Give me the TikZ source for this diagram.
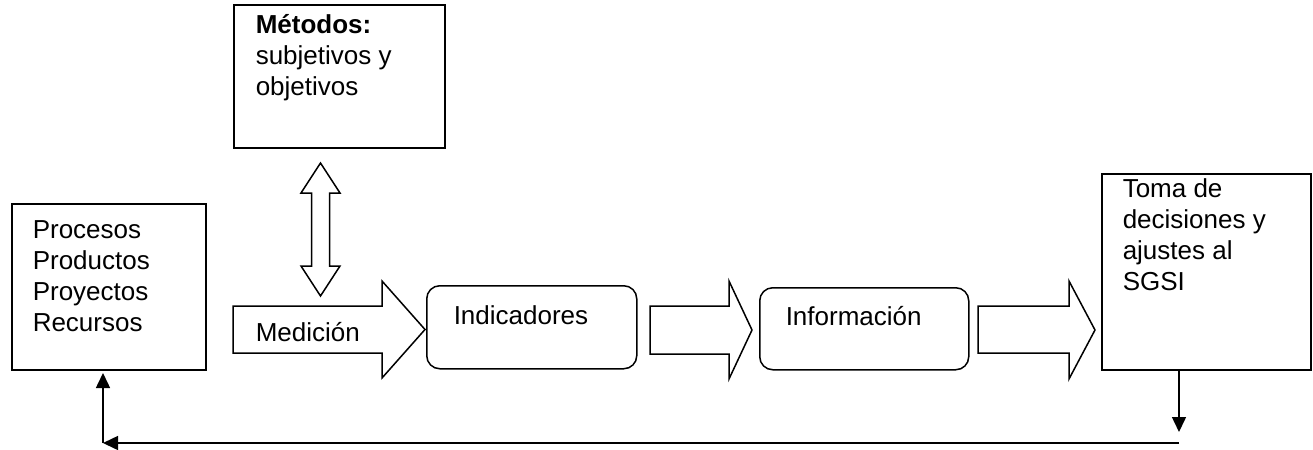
\documentclass[tikz,border=0pt]{standalone}
\usepackage{fontspec}
\setmainfont{Liberation Sans}
\usetikzlibrary{arrows.meta,positioning,calc}

\begin{document}
\begin{tikzpicture}[x=0.5pt,y=-0.5pt,>={Triangle[length=7.5pt,width=7pt]},line width=0.75pt]
	\tikzstyle{box}=[draw,inner sep=0pt,anchor=north west]
	\tikzstyle{rbox}=[box,rounded corners=6.5pt]
	\tikzstyle{txt}=[inner sep=0pt,anchor=base west,align=left,font=\fontsize{13}{15.5}\selectfont]
	\tikzstyle{bigarrow}=[draw,fill=white,line join=miter]
	\useasboundingbox (0,0) rectangle (1313,450);
	
	% cajas
	\node[box,minimum width=105.5pt,minimum height=71.5pt] (metodos) at (233,4) {};
	\node[box,minimum width=97pt,minimum height=83pt] (procesos) at (11,203) {};
	\node[rbox,minimum width=105pt,minimum height=41.5pt] (indicadores) at (426,285) {};
	\node[rbox,minimum width=104.5pt,minimum height=41pt] (informacion) at (759,287) {};
	\node[box,minimum width=104.5pt,minimum height=98pt] (toma) at (1101,173) {};
	
	% flechas anchas
	\draw[bigarrow] (233,306) -- (382,306) -- (382,281) -- (425,329.5) -- (382,378) -- (382,353) -- (233,353) -- cycle;
	\draw[bigarrow] (650,306) -- (729,306) -- (729,281) -- (752,330) -- (729,379) -- (729,354) -- (650,354) -- cycle;
	\draw[bigarrow] (978,306) -- (1069,306) -- (1069,281) -- (1095,330) -- (1069,379) -- (1069,353) -- (978,353) -- cycle;
	\draw[bigarrow] (320.5,163) -- (340,193) -- (329.5,193) -- (329.5,266) -- (340,266) -- (320.5,296)
		-- (301,266) -- (311.5,266) -- (311.5,193) -- (301,193) -- cycle;
	
	% textos (base = ultima linea)
	\node[txt] (tmetodos) at (255,95) {\textbf{Métodos:}\\subjetivos y\\objetivos};
	\node[txt] (tprocesos) at (32,331) {Procesos\\Productos\\Proyectos\\Recursos};
	\node[txt] (medicion) at (255,341) {Medición};
	\node[txt] (tindicadores) at (453,324) {Indicadores};
	\node[txt] (tinformacion) at (785,325) {Información};
	\node[txt] (ttoma) at (1122,290) {Toma de\\decisiones y\\ajustes al\\SGSI};
	
	% retroalimentacion
	\coordinate (d1) at (1179,369);
	\coordinate (d2) at (1179,432);
	\coordinate (r1) at (1179,443);
	\coordinate (r2) at (103,443);
	\coordinate (u1) at (103,373);
	\draw[->] (d1) -- (d2);
	\draw[->] (r1) -- (r2);
	\draw[->] (r2) -- (u1);
\end{tikzpicture}
\end{document}
